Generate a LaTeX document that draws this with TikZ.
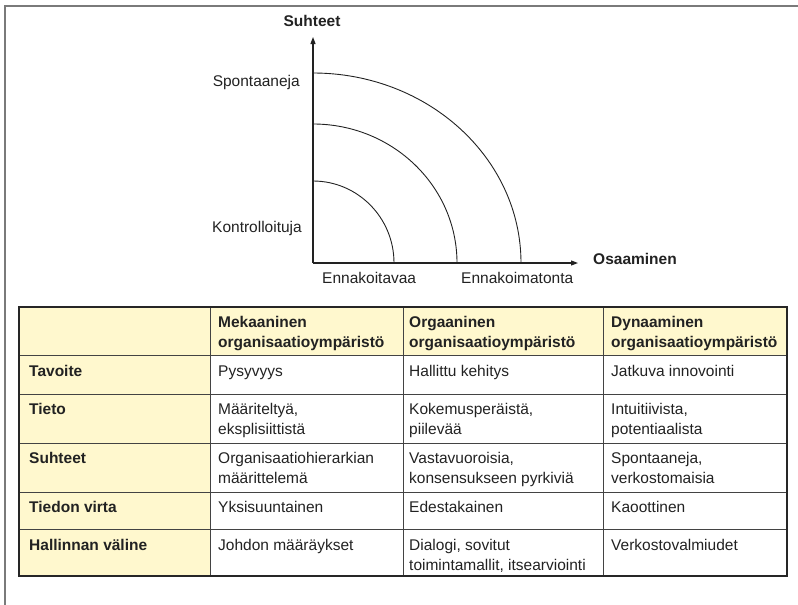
\documentclass[tikz,border=0pt]{standalone}
\usepackage{fontspec}
\setmainfont{Liberation Sans}
\usetikzlibrary{arrows.meta}
\definecolor{cellyellow}{HTML}{FFF8CE}
\definecolor{ink}{HTML}{222222}
\definecolor{framegray}{HTML}{7A7A7A}
\newcommand{\celltext}[1]{\begin{tabular}[t]{@{}l@{}}#1\end{tabular}}
\begin{document}
\begin{tikzpicture}[x=1pt,y=1pt,
  every node/.style={font=\fontsize{15.5}{20.5}\selectfont, text=ink, inner sep=0pt},
  lbl/.style={anchor=base west},
  lblr/.style={anchor=base east},
  hdr/.style={anchor=base west, font=\fontsize{15.5}{20.5}\selectfont\bfseries},
  axis/.style={draw=ink, line width=1.1pt, -{Triangle[length=7pt,width=5pt]}},
  band/.style={draw=ink, line width=0.9pt},
  grid/.style={draw=ink!85, line width=0.9pt},
  outer/.style={draw=black!85, line width=2.2pt}]
\useasboundingbox (0,0) rectangle (798,-605);

% page frame (top and left edges)
\draw[framegray, line width=1.5pt] (798,-6) -- (5,-6) -- (5,-605);

% ---------- quadrant diagram ----------
\coordinate (O) at (313,-263);
\coordinate (ytip) at (313,-37);
\coordinate (xtip) at (578,-263);
\draw[axis] (O) -- (ytip);
\draw[axis] (O) -- (xtip);

\draw[band] (313,-181) arc[start angle=90, end angle=0, x radius=81, y radius=82];
\draw[band] (313,-124) arc[start angle=90, end angle=0, x radius=144, y radius=139];
\draw[band] (313,-73) arc[start angle=90, end angle=0, x radius=208, y radius=190];

\node[anchor=base, font=\fontsize{15.5}{20.5}\selectfont\bfseries] (ylab) at (312,-26) {Suhteet};
\node[hdr] (xlab) at (593,-264) {Osaaminen};
\node[lblr] (spont) at (300,-86) {Spontaaneja};
\node[lblr] (kontr) at (302,-232) {Kontrolloituja};
\node[lbl] (ennak) at (322,-283) {Ennakoitavaa};
\node[lbl] (ennakm) at (461,-283) {Ennakoimatonta};

% ---------- table ----------
% shaded header row and first column
\fill[cellyellow] (19,-307) rectangle (787,-355);
\fill[cellyellow] (19,-355) rectangle (210,-576);

% inner rules
\foreach \yy in {355,394,443,492,529}
  \draw[grid] (19,-\yy) -- (787,-\yy);
\foreach \xx in {210,403,603}
  \draw[grid] (\xx,-307) -- (\xx,-576);
\draw[outer] (19,-307) rectangle (787,-576);

% header row
\node[hdr] (h1) at (218,-327) {\celltext{Mekaaninen\\organisaatioympäristö}};
\node[hdr] (h2) at (409,-327) {\celltext{Orgaaninen\\organisaatioympäristö}};
\node[hdr] (h3) at (611,-327) {\celltext{Dynaaminen\\organisaatioympäristö}};

% row labels
\node[hdr] (r1) at (29,-376) {Tavoite};
\node[hdr] (r2) at (29,-414) {Tieto};
\node[hdr] (r3) at (29,-463) {Suhteet};
\node[hdr] (r4) at (29,-512) {Tiedon virta};
\node[hdr] (r5) at (29,-550) {Hallinnan väline};

% Tavoite
\node[lbl] (c11) at (218,-376) {Pysyvyys};
\node[lbl] (c12) at (409,-376) {Hallittu kehitys};
\node[lbl] (c13) at (611,-376) {Jatkuva innovointi};
% Tieto
\node[lbl] (c21) at (218,-414) {\celltext{Määriteltyä,\\eksplisiittistä}};
\node[lbl] (c22) at (409,-414) {\celltext{Kokemusperäistä,\\piilevää}};
\node[lbl] (c23) at (611,-414) {\celltext{Intuitiivista,\\potentiaalista}};
% Suhteet
\node[lbl] (c31) at (218,-463) {\celltext{Organisaatiohierarkian\\määrittelemä}};
\node[lbl] (c32) at (409,-463) {\celltext{Vastavuoroisia,\\konsensukseen pyrkiviä}};
\node[lbl] (c33) at (611,-463) {\celltext{Spontaaneja,\\verkostomaisia}};
% Tiedon virta
\node[lbl] (c41) at (218,-512) {Yksisuuntainen};
\node[lbl] (c42) at (409,-512) {Edestakainen};
\node[lbl] (c43) at (611,-512) {Kaoottinen};
% Hallinnan väline
\node[lbl] (c51) at (218,-550) {Johdon määräykset};
\node[lbl] (c52) at (409,-550) {\celltext{Dialogi, sovitut\\toimintamallit, itsearviointi}};
\node[lbl] (c53) at (611,-550) {Verkostovalmiudet};
\end{tikzpicture}
\end{document}
